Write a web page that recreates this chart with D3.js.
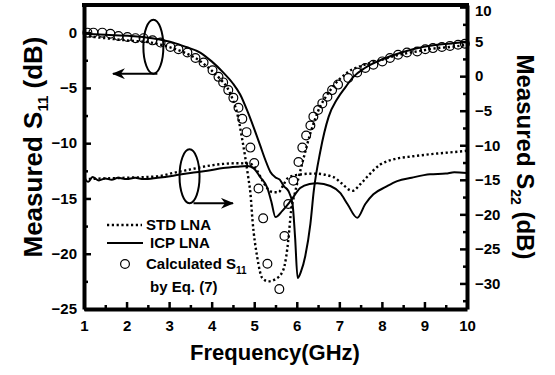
<!DOCTYPE html>
<html>
<head>
<meta charset="utf-8">
<script src="https://cdn.jsdelivr.net/npm/d3@7"></script>
<style>
  body { margin: 0; background: #fff; }
  svg { font-family: "Liberation Sans", Arial, sans-serif; font-weight: bold; }
</style>
</head>
<body>
<div id="chart"></div>
<script>
const width = 555;
const height = 375;

// ticks
const xTicks = [1, 2, 3, 4, 5, 6, 7, 8, 9, 10];
const leftTicks = [0, -5, -10, -15, -20, -25];
const rightTicks = [10, 5, 0, -5, -10, -15, -20, -25, -30];

// S11 (left axis), [GHz, dB]
const s11Std = [[1.0,-0.3],[1.5,-0.5],[2.0,-0.7],[2.58,-0.9],[3.0,-1.3],[3.36,-1.8],[3.7,-2.5],[3.99,-3.4],
  [4.2,-4.2],[4.37,-5.0],[4.5,-6.1],[4.6,-7.3],[4.72,-9.7],[4.79,-11.3],[4.86,-13.1],[4.91,-14.5],
  [4.96,-17.0],[5.07,-20.3],[5.19,-22.2],[5.33,-22.5],[5.5,-22.3],[5.68,-21.5],[5.75,-20.3],[5.8,-18.8],
  [5.87,-16.0],[5.95,-14.6],[6.05,-13.0],[6.15,-11.5],[6.32,-9.1],[6.48,-7.3],[6.79,-5.2],[7.19,-3.6],
  [7.6,-2.9],[7.96,-2.5],[8.4,-2.0],[8.83,-1.7],[9.3,-1.4],[9.6,-1.3],[10,-1.1]];

const s11Icp = [[1.0,-0.1],[1.5,-0.2],[2.1,-0.3],[2.6,-0.5],[3.1,-0.9],[3.4,-1.3],[3.73,-1.8],[4.0,-2.6],
  [4.27,-3.6],[4.5,-4.6],[4.67,-5.6],[4.85,-7.2],[4.98,-8.5],[5.14,-10.2],[5.26,-11.5],[5.38,-12.6],
  [5.5,-13.1],[5.6,-13.3],[5.7,-13.9],[5.8,-14.3],[5.9,-15.5],[5.96,-18.5],[6.02,-22.2],[6.1,-21.6],
  [6.2,-20.2],[6.32,-17.3],[6.4,-14.3],[6.55,-10.8],[6.75,-7.6],[6.95,-6.0],[7.15,-4.9],[7.33,-4.0],
  [7.6,-3.2],[7.96,-2.5],[8.3,-2.0],[8.73,-1.5],[9.3,-1.1],[9.84,-0.9],[10,-0.8]];

const s11Calc = [[1.08,0],[1.22,0],[1.43,0],[1.62,-0.1],[1.81,-0.3],[2.02,-0.4],[2.21,-0.5],[2.40,-0.5],
  [2.61,-0.7],[2.80,-0.9],[3.03,-1.3],[3.22,-1.5],[3.43,-1.8],[3.62,-2.3],[3.81,-2.7],[4.02,-3.4],
  [4.16,-4.0],[4.27,-4.5],[4.39,-5.2],[4.51,-5.9],[4.63,-6.8],[4.72,-7.8],[4.82,-9.0],[4.91,-10.4],
  [5.00,-11.8],[5.10,-14.1],[5.21,-16.8],[5.31,-20.9],[5.59,-23.2],[5.71,-18.4],[5.80,-15.5],[5.92,-13.4],
  [6.04,-11.7],[6.13,-10.4],[6.22,-9.3],[6.32,-8.4],[6.39,-7.6],[6.50,-7.0],[6.60,-6.4],[6.72,-5.8],
  [6.83,-5.2],[6.97,-4.7],[7.21,-4.1],[7.42,-3.6],[7.61,-3.2],[7.80,-2.9],[8.01,-2.6],[8.19,-2.3],
  [8.38,-2.0],[8.59,-1.8],[8.83,-1.7],[9.02,-1.5],[9.20,-1.4],[9.41,-1.3],[9.60,-1.2],[9.79,-1.1],[9.95,-1.0]];

// S22 (right axis), [GHz, dB]
const s22Std = [[1.0,-14.9],[1.5,-14.8],[2.0,-14.7],[2.73,-14.5],[3.1,-14.0],[3.5,-13.5],[3.9,-13.0],
  [4.27,-12.7],[4.6,-12.6],[4.91,-12.7],[5.05,-13.5],[5.2,-15.2],[5.33,-16.4],[5.45,-16.8],[5.57,-16.8],
  [5.68,-15.8],[5.78,-14.8],[6.0,-14.3],[6.4,-14.1],[6.86,-14.6],[7.05,-15.5],[7.3,-16.6],[7.5,-15.6],
  [7.65,-14.6],[7.96,-12.8],[8.3,-12.0],[8.73,-11.6],[9.3,-11.2],[9.84,-10.9],[10,-10.8]];

const s22Icp = [[1.0,-14.7],[1.1,-15.3],[1.2,-14.6],[1.35,-15.1],[1.5,-14.8],[1.65,-15.0],[1.8,-14.7],
  [2.0,-14.9],[2.2,-14.7],[2.4,-14.9],[2.73,-14.7],[3.1,-14.4],[3.5,-14.0],[3.9,-13.7],[4.27,-13.3],
  [4.6,-13.1],[4.84,-13.0],[4.98,-13.3],[5.14,-14.6],[5.31,-16.2],[5.4,-18.1],[5.5,-20.4],[5.66,-19.5],
  [5.85,-18.1],[6.08,-16.2],[6.3,-15.6],[6.48,-15.5],[6.79,-15.9],[7.02,-16.9],[7.19,-18.5],[7.42,-20.5],
  [7.61,-18.5],[7.8,-17.1],[8.1,-16.0],[8.36,-15.2],[8.7,-14.7],[9.13,-14.2],[9.5,-14.1],[9.7,-13.9],[10,-14.0]];

const svg = d3.select("#chart")
  .append("svg")
  .attr("width", width)
  .attr("height", height);

const x = d3.scaleLinear().domain([1, 10]).range([84, 467]);
const yL = d3.scaleLinear().domain([-25, 2.5]).range([309, 5]);
const yR = d3.scaleLinear().domain([-33.7, 10.3]).range([309, 5]);

const lineL = d3.line().x(d => x(d[0])).y(d => yL(d[1])).curve(d3.curveMonotoneX);
const lineR = d3.line().x(d => x(d[0])).y(d => yR(d[1])).curve(d3.curveMonotoneX);

const dotted = "2.2,2.6";

// curves
svg.append("path").datum(s11Icp).attr("d", lineL)
  .attr("fill", "none").attr("stroke", "#000").attr("stroke-width", 2);
svg.append("path").datum(s11Std).attr("d", lineL)
  .attr("fill", "none").attr("stroke", "#000").attr("stroke-width", 2.4).attr("stroke-dasharray", dotted);
svg.append("path").datum(s22Icp).attr("d", lineR)
  .attr("fill", "none").attr("stroke", "#000").attr("stroke-width", 2);
svg.append("path").datum(s22Std).attr("d", lineR)
  .attr("fill", "none").attr("stroke", "#000").attr("stroke-width", 2.4).attr("stroke-dasharray", dotted);

svg.append("g").selectAll("circle")
  .data(s11Calc)
  .join("circle")
  .attr("cx", d => x(d[0]))
  .attr("cy", d => yL(d[1]))
  .attr("r", 4.4)
  .attr("fill", "none")
  .attr("stroke", "#000")
  .attr("stroke-width", 1.2);

// annotations: ellipses + arrows
const defs = svg.append("defs");
defs.append("marker")
  .attr("id", "head")
  .attr("viewBox", "0 0 13 11")
  .attr("refX", 12).attr("refY", 5.5)
  .attr("markerWidth", 13).attr("markerHeight", 11)
  .attr("markerUnits", "userSpaceOnUse")
  .attr("orient", "auto")
  .append("path")
  .attr("d", "M0,0 L13,5.5 L0,11 L4,5.5 Z")
  .attr("fill", "#000");

function annot(cx, cy, x2) {
  svg.append("ellipse")
    .attr("cx", cx).attr("cy", cy).attr("rx", 10).attr("ry", 27)
    .attr("fill", "none").attr("stroke", "#000").attr("stroke-width", 2);
  svg.append("line")
    .attr("x1", cx + 4).attr("y1", cy + 27)
    .attr("x2", x2).attr("y2", cy + 27)
    .attr("stroke", "#000").attr("stroke-width", 2)
    .attr("marker-end", "url(#head)");
}
annot(x(2.63), yL(-1.27), x(1.68));
annot(x(3.48), yR(-14.5), x(4.5));

// axes
function styleAxis(g) {
  g.select(".domain").attr("stroke-width", 4);
  g.selectAll(".tick line").attr("stroke-width", 2.5);
  g.selectAll(".tick text").attr("font-size", 15).attr("font-weight", "bold").attr("fill", "#000")
    .attr("font-family", "'Liberation Sans', Arial, sans-serif");
}

// minor ticks first
svg.append("g").attr("transform", "translate(0,309)")
  .call(d3.axisBottom(x).tickValues(d3.range(1.5, 10, 1)).tickSize(-4).tickSizeOuter(0).tickFormat(""))
  .call(g => g.select(".domain").remove())
  .call(g => g.selectAll(".tick line").attr("stroke-width", 2.5));
svg.append("g").attr("transform", "translate(84,0)")
  .call(d3.axisLeft(yL).tickValues([-2.5, -7.5, -12.5, -17.5, -22.5]).tickSize(-4).tickSizeOuter(0).tickFormat(""))
  .call(g => g.select(".domain").remove())
  .call(g => g.selectAll(".tick line").attr("stroke-width", 2.5));
svg.append("g").attr("transform", "translate(467,0)")
  .call(d3.axisRight(yR).tickValues([7.5, 2.5, -2.5, -7.5, -12.5, -17.5, -22.5, -27.5, -32.5]).tickSize(-4).tickSizeOuter(0).tickFormat(""))
  .call(g => g.select(".domain").remove())
  .call(g => g.selectAll(".tick line").attr("stroke-width", 2.5));

svg.append("g").attr("transform", "translate(0,309)")
  .call(d3.axisBottom(x).tickValues(xTicks).tickSize(-7).tickSizeOuter(0).tickPadding(11))
  .call(styleAxis);
svg.append("g").attr("transform", "translate(84,0)")
  .call(d3.axisLeft(yL).tickValues(leftTicks).tickSize(-7).tickSizeOuter(0).tickPadding(7))
  .call(styleAxis);
svg.append("g").attr("transform", "translate(467,0)")
  .call(d3.axisRight(yR).tickValues(rightTicks).tickSize(-7).tickSizeOuter(0).tickPadding(8))
  .call(styleAxis)
  .call(g => g.selectAll(".tick text").filter(d => d === 10).attr("dy", "0.55em"));

// top border
svg.append("line")
  .attr("x1", 82).attr("x2", 469).attr("y1", 5).attr("y2", 5)
  .attr("stroke", "#000").attr("stroke-width", 4);

// axis titles
svg.append("text")
  .attr("x", 275).attr("y", 360)
  .attr("text-anchor", "middle")
  .attr("font-size", 22)
  .text("Frequency(GHz)");

const leftTitle = svg.append("text")
  .attr("transform", "translate(42,147) rotate(-90)")
  .attr("text-anchor", "middle")
  .attr("font-size", 26);
leftTitle.append("tspan").text("Measured S");
leftTitle.append("tspan").attr("font-size", 15).attr("dy", 6).text("11");
leftTitle.append("tspan").attr("dy", -6).text(" (dB)");

const rightTitle = svg.append("text")
  .attr("transform", "translate(517,157) rotate(90)")
  .attr("text-anchor", "middle")
  .attr("font-size", 24);
rightTitle.append("tspan").text("Measured S");
rightTitle.append("tspan").attr("font-size", 14).attr("dy", 6).text("22");
rightTitle.append("tspan").attr("dy", -6).text(" (dB)");

// legend
const legend = svg.append("g").attr("font-size", 15);
legend.append("line")
  .attr("x1", 107).attr("x2", 142).attr("y1", 225).attr("y2", 225)
  .attr("stroke", "#000").attr("stroke-width", 2.4).attr("stroke-dasharray", dotted);
legend.append("text").attr("x", 146).attr("y", 230).text("STD LNA");
legend.append("line")
  .attr("x1", 107).attr("x2", 143).attr("y1", 243).attr("y2", 243)
  .attr("stroke", "#000").attr("stroke-width", 2);
legend.append("text").attr("x", 150).attr("y", 248).text("ICP LNA");
legend.append("circle")
  .attr("cx", 125).attr("cy", 264).attr("r", 4.4)
  .attr("fill", "none").attr("stroke", "#000").attr("stroke-width", 1.2);
const calc = legend.append("text").attr("x", 146).attr("y", 269);
calc.append("tspan").text("Calculated S");
calc.append("tspan").attr("font-size", 10).attr("dy", 5).text("11");
legend.append("text").attr("x", 150).attr("y", 292).text("by Eq. (7)");
</script>
</body>
</html>
